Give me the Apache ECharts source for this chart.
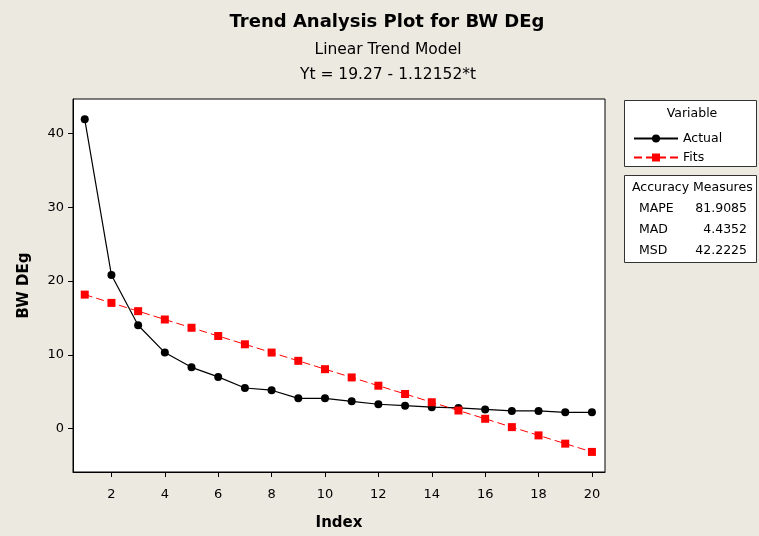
<!DOCTYPE html>
<html>
<head>
<meta charset="utf-8">
<script src="https://cdn.jsdelivr.net/npm/echarts@6/dist/echarts.min.js"></script>
<style>
  html, body { margin: 0; padding: 0; background: #ece9e0; }
  #main { width: 759px; height: 536px; }
</style>
</head>
<body>
<div id="main"></div>
<script>
// data
var index = [1, 2, 3, 4, 5, 6, 7, 8, 9, 10, 11, 12, 13, 14, 15, 16, 17, 18, 19, 20];
var actual = [41.9, 20.8, 14.0, 10.3, 8.3, 7.0, 5.5, 5.2, 4.1, 4.1, 3.7, 3.3, 3.1, 2.9, 2.8, 2.6, 2.4, 2.4, 2.2, 2.2];
var fits = [18.15, 17.03, 15.91, 14.78, 13.66, 12.54, 11.42, 10.30, 9.18, 8.05, 6.93, 5.81, 4.69, 3.57, 2.45, 1.33, 0.20, -0.92, -2.04, -3.16];
var xTicks = [2, 4, 6, 8, 10, 12, 14, 16, 18, 20];
var yTicks = [0, 10, 20, 30, 40];
var measureNames = ['MAPE', 'MAD', 'MSD'];
var measureValues = ['81.9085', '4.4352', '42.2225'];

var font = 'Tahoma, "DejaVu Sans", sans-serif';

function pairs(ys) {
  var out = [];
  for (var i = 0; i < index.length; i++) out.push([index[i], ys[i]]);
  return out;
}

var graphics = [
  // legend box
  { type: 'rect', shape: { x: 624.5, y: 100.5, width: 132, height: 66 },
    style: { fill: '#fff', stroke: '#333', lineWidth: 1 } },
  { type: 'text', x: 692, y: 114, style: { text: 'Variable', font: '12.5px ' + font, fill: '#000', align: 'center', verticalAlign: 'middle' } },
  // accuracy box
  { type: 'rect', shape: { x: 624.5, y: 175.5, width: 132, height: 87 },
    style: { fill: '#fff', stroke: '#333', lineWidth: 1 } },
  { type: 'text', x: 632, y: 188, style: { text: 'Accuracy Measures', font: '12.5px ' + font, fill: '#000', verticalAlign: 'middle' } }
];
for (var i = 0; i < measureNames.length; i++) {
  graphics.push({ type: 'text', x: 639, y: 209 + i * 21, style: { text: measureNames[i], font: '12.5px ' + font, fill: '#000', verticalAlign: 'middle' } });
  graphics.push({ type: 'text', x: 747, y: 209 + i * 21, style: { text: measureValues[i], font: '12.5px ' + font, fill: '#000', align: 'right', verticalAlign: 'middle' } });
}

var chart = echarts.init(document.getElementById('main'));
chart.setOption({
  backgroundColor: '#ece9e0',
  animation: false,
  title: [
    { text: 'Trend Analysis Plot for BW DEg', left: 382, top: 8, textAlign: 'center',
      textStyle: { fontFamily: font, fontSize: 18, fontWeight: 'bold', color: '#000' } },
    { text: 'Linear Trend Model', left: 383, top: 37, textAlign: 'center',
      textStyle: { fontFamily: font, fontSize: 15.5, fontWeight: 'normal', color: '#000' } },
    { text: 'Yt = 19.27 - 1.12152*t', left: 383, top: 62, textAlign: 'center',
      textStyle: { fontFamily: font, fontSize: 15.5, fontWeight: 'normal', color: '#000' } }
  ],
  legend: {
    orient: 'vertical',
    left: 628,
    top: 127,
    itemGap: 6,
    itemWidth: 44,
    itemHeight: 10,
    textStyle: { fontFamily: font, fontSize: 12.5, color: '#000' },
    data: ['Actual', 'Fits']
  },
  grid: { left: 73, top: 99, width: 532, height: 378, containLabel: false,
    show: true, backgroundColor: '#fff', borderColor: '#000', borderWidth: 1 },
  xAxis: {
    type: 'value',
    min: 0.56,
    max: 20.49,
    name: 'Index',
    nameLocation: 'middle',
    nameGap: 44,
    nameTextStyle: { fontFamily: font, fontSize: 15, fontWeight: 'bold', color: '#000' },
    axisLine: { show: true, onZero: false, lineStyle: { color: '#000' } },
    axisTick: { show: true, length: 5, customValues: xTicks, lineStyle: { color: '#000' } },
    axisLabel: { customValues: xTicks, margin: 16, fontFamily: font, fontSize: 13, color: '#000' },
    splitLine: { show: false }
  },
  yAxis: {
    type: 'value',
    min: -5.88,
    max: 44.65,
    name: 'BW DEg',
    nameLocation: 'middle',
    nameGap: 41,
    nameRotate: 90,
    nameTextStyle: { fontFamily: font, fontSize: 15, fontWeight: 'bold', color: '#000' },
    axisLine: { show: true, onZero: false, lineStyle: { color: '#000' } },
    axisTick: { show: true, length: 5, customValues: yTicks, lineStyle: { color: '#000' } },
    axisLabel: { customValues: yTicks, margin: 9, fontFamily: font, fontSize: 13, color: '#000' },
    splitLine: { show: false }
  },
  graphic: graphics,
  series: [
    {
      name: 'Actual',
      type: 'line',
      data: pairs(actual),
      symbol: 'circle',
      symbolSize: 8,
      itemStyle: { color: '#000' },
      lineStyle: { color: '#000', width: 1.2 }
    },
    {
      name: 'Fits',
      type: 'line',
      data: pairs(fits),
      symbol: 'rect',
      symbolSize: 8,
      itemStyle: { color: '#ff0000' },
      lineStyle: { color: '#ff0000', width: 1, type: [8, 4] }
    }
  ]
});
</script>
</body>
</html>
